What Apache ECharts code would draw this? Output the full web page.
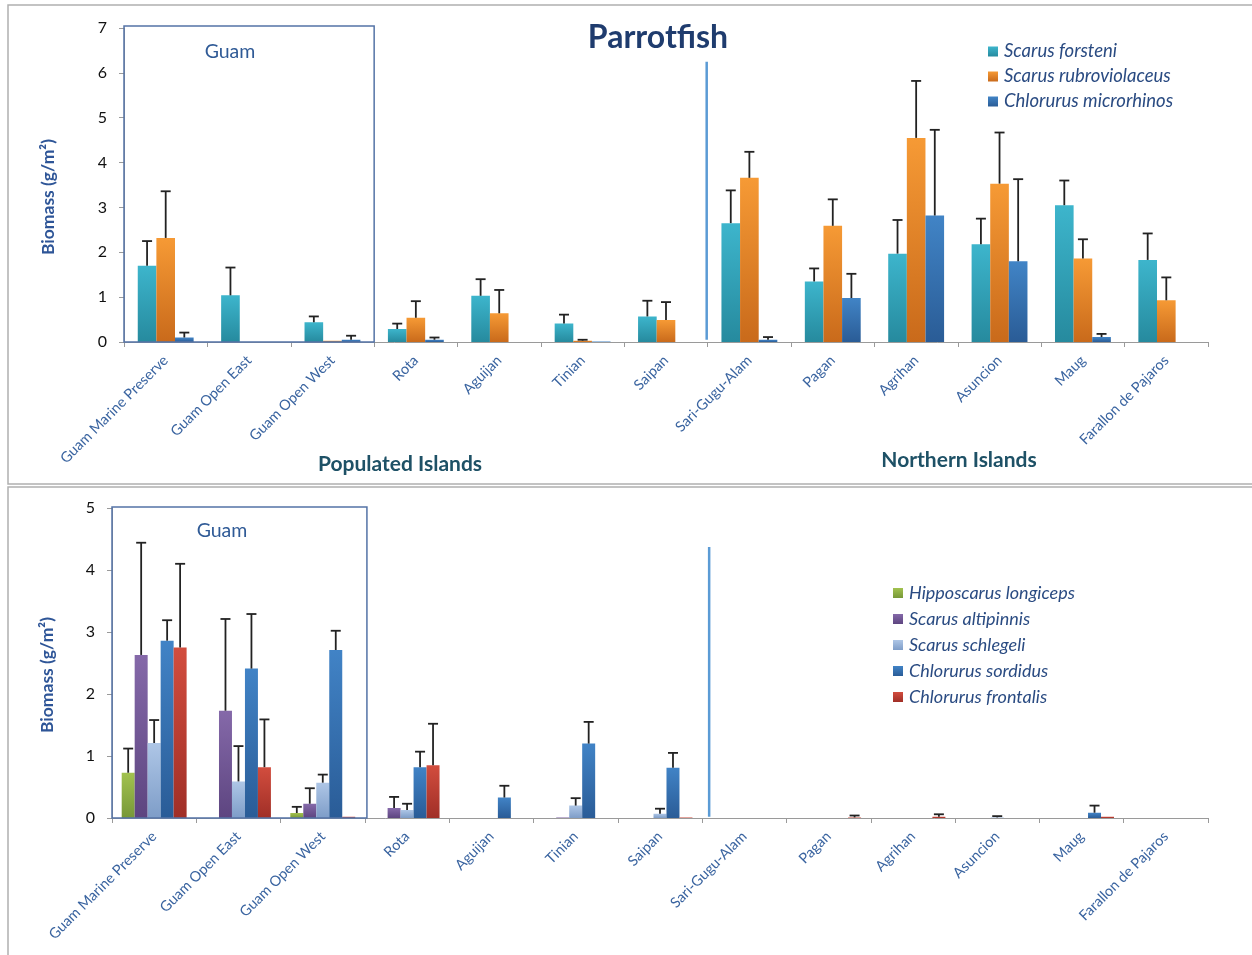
<!DOCTYPE html>
<html><head><meta charset="utf-8">
<script src="https://cdn.jsdelivr.net/npm/echarts@6/dist/echarts.min.js"></script>
<style>html,body{margin:0;padding:0;background:#fff}#c{width:1252px;height:955px}</style>
</head><body><div id="c"></div>
<script>
var categories = ['Guam Marine Preserve','Guam Open East','Guam Open West','Rota','Aguijan','Tinian','Saipan','Sari-Gugu-Alam','Pagan','Agrihan','Asuncion','Maug','Farallon de Pajaros'];
var yTicksTop = [0,1,2,3,4,5,6,7];
var yTicksBottom = [0,1,2,3,4,5];

// Top panel
var forsteni     = [1.70,1.04,0.44,0.29,1.03,0.41,0.57,2.65,1.35,1.97,2.18,3.05,1.83];
var forsteniErr  = [2.25,1.66,0.57,0.41,1.40,0.61,0.92,3.38,1.64,2.72,2.75,3.60,2.42];
var rubro        = [2.32,0,0.03,0.54,0.64,0.03,0.49,3.66,2.59,4.55,3.53,1.86,0.93];
var rubroErr     = [3.36,null,null,0.91,1.16,0.05,0.89,4.24,3.18,5.82,4.67,2.29,1.44];
var micro        = [0.10,0,0.05,0.05,0,0.01,0,0.05,0.98,2.82,1.80,0.11,0];
var microErr     = [0.21,null,0.14,0.10,null,null,null,0.11,1.52,4.73,3.63,0.18,null];

// Bottom panel
var longiceps     = [0.73,0,0.08,0,0,0,0,0,0,0,0,0,0];
var longicepsErr  = [1.12,null,0.18,null,null,null,null,null,null,null,null,null,null];
var altipinnis    = [2.63,1.73,0.23,0.16,0,0.01,0,0,0,0,0,0,0];
var altipinnisErr = [4.44,3.21,0.48,0.34,null,null,null,null,null,null,null,null,null];
var schlegeli     = [1.21,0.59,0.57,0.13,0,0.20,0.07,0,0,0,0.01,0,0];
var schlegeliErr  = [1.58,1.16,0.70,0.23,null,0.32,0.15,null,null,null,0.03,null,null];
var sordidus      = [2.86,2.41,2.71,0.82,0.33,1.20,0.81,0,0,0,0,0.085,0];
var sordidusErr   = [3.19,3.29,3.02,1.07,0.52,1.55,1.05,null,null,null,null,0.20,null];
var frontalis     = [2.75,0.82,0.02,0.85,0,0,0.01,0,0.01,0.02,0,0.02,0];
var frontalisErr  = [4.10,1.59,null,1.52,null,null,null,null,0.04,0.06,null,null,null];

var topSeries = [
  {name:'Scarus forsteni', data:forsteni, err:forsteniErr, c:['#3DB5CC','#268A9E']},
  {name:'Scarus rubroviolaceus', data:rubro, err:rubroErr, c:['#F69A35','#C96A1B']},
  {name:'Chlorurus microrhinos', data:micro, err:microErr, c:['#4184C6','#2A5C96']}
];
var bottomSeries = [
  {name:'Hipposcarus longiceps', data:longiceps, err:longicepsErr, c:['#A2C24F','#779838']},
  {name:'Scarus altipinnis', data:altipinnis, err:altipinnisErr, c:['#8569A9','#5D4580']},
  {name:'Scarus schlegeli', data:schlegeli, err:schlegeliErr, c:['#AEC6E6','#7E9DC8']},
  {name:'Chlorurus sordidus', data:sordidus, err:sordidusErr, c:['#4183C6','#2A5C97']},
  {name:'Chlorurus frontalis', data:frontalis, err:frontalisErr, c:['#D24D3E','#A02F27']}
];

var FONT = 'Lato, "Open Sans", sans-serif';
var GAP_TOP = 0.33, GAP_BOT = 0.23;

function grad(c){
  return new echarts.graphic.LinearGradient(0,0,0,1,[{offset:0,color:c[0]},{offset:1,color:c[1]}]);
}
function errRender(n,k,gap){
  return function(params, api){
    var ci = api.value(0), v = api.value(1), e = api.value(2);
    var p0 = api.coord([ci, v]), p1 = api.coord([ci, e]);
    var band = api.size([1,0])[0];
    var group = band*(1-gap), bw = group/n;
    var x = p0[0] - group/2 + (k+0.5)*bw;
    var st = {stroke:'#222', lineWidth:1.8};
    return {type:'group', children:[
      {type:'line', shape:{x1:x,y1:p0[1],x2:x,y2:p1[1]}, style:st},
      {type:'line', shape:{x1:x-5,y1:p1[1],x2:x+5,y2:p1[1]}, style:st}
    ]};
  };
}

var series = [];
function addGroup(list, axisIdx, gap){
  list.forEach(function(s,k){
    series.push({
      type:'bar', name:s.name, xAxisIndex:axisIdx, yAxisIndex:axisIdx,
      data:s.data, barGap:'0%', barCategoryGap:(gap*100)+'%',
      itemStyle:{color:grad(s.c)}, animation:false
    });
    var ed = [];
    s.err.forEach(function(e,i){ if(e!==null) ed.push([i, s.data[i], e]); });
    series.push({
      type:'custom', name:s.name+' err', xAxisIndex:axisIdx, yAxisIndex:axisIdx,
      renderItem:errRender(list.length,k,gap), data:ed, z:5, silent:true, animation:false,
      encode:{x:0,y:[1,2]}
    });
  });
}
addGroup(topSeries,0,GAP_TOP);
addGroup(bottomSeries,1,GAP_BOT);

function xAx(gi){
  return {type:'category', gridIndex:gi, data:categories,
    axisLine:{lineStyle:{color:'#9a9a9a',width:1}},
    axisTick:{show:true,length:5,lineStyle:{color:'#9a9a9a'}},
    axisLabel:{interval:0, rotate:45, fontSize:14.5, color:'#3A64A0', fontFamily:FONT, margin:16},
    splitLine:{show:false}};
}
function yAx(gi,max,margin,ticks){
  return {type:'value', gridIndex:gi, min:ticks[0], max:max, interval:1,
    axisLine:{show:true, lineStyle:{color:'#9a9a9a'}},
    axisTick:{show:true, length:5, lineStyle:{color:'#9a9a9a'}},
    axisLabel:{fontSize:16, color:'#111', fontFamily:FONT, margin:margin},
    splitLine:{show:false}};
}

var option = {
  backgroundColor:'#fff',
  animation:false,
  textStyle:{fontFamily:FONT},
  grid:[
    {left:124, right:44, top:28, height:314},
    {left:112, right:44, top:508, height:310}
  ],
  xAxis:[xAx(0), xAx(1)],
  yAxis:[yAx(0,7,17,yTicksTop), yAx(1,5,17,yTicksBottom)],
  legend:[
    {data:topSeries.map(function(s){return s.name;}), orient:'vertical', left:983, top:37,
      itemWidth:10, itemHeight:10, itemGap:6, icon:'rect', selectedMode:false,
      textStyle:{fontStyle:'italic', fontSize:18.5, color:'#2A4B82', fontFamily:FONT, padding:[0,0,0,1]}},
    {data:bottomSeries.map(function(s){return s.name;}), orient:'vertical', left:888, top:579,
      itemWidth:10, itemHeight:10, itemGap:8, icon:'rect', selectedMode:false,
      textStyle:{fontStyle:'italic', fontSize:18, color:'#2A4B82', fontFamily:FONT, padding:[0,0,0,1]}}
  ],
  series:series
};

var chart = echarts.init(document.getElementById('c'), null, {renderer:'canvas'});
chart.setOption(option);

function boundary(gi, idx, val){
  var a = chart.convertToPixel({xAxisIndex:gi, yAxisIndex:gi},[0,val]);
  var b = chart.convertToPixel({xAxisIndex:gi, yAxisIndex:gi},[1,val]);
  var band = b[0]-a[0];
  return [a[0] - band/2 + idx*band, a[1]];
}
var tl0 = boundary(0,0,7), br0 = boundary(0,3,0);
var tl1 = boundary(1,0,5), br1 = boundary(1,3,0);
var s0a = boundary(0,7,6.25), s0b = boundary(0,7,0.05);
var s1a = boundary(1,7,4.37), s1b = boundary(1,7,0.02);

chart.setOption({graphic:[
  {type:'rect', shape:{x:8,y:5,width:1270,height:479}, style:{fill:'none', stroke:'#b0b0b0', lineWidth:1.5}, silent:true},
  {type:'rect', shape:{x:8,y:487,width:1270,height:480}, style:{fill:'none', stroke:'#b0b0b0', lineWidth:1.5}, silent:true},
  {type:'rect', shape:{x:tl0[0],y:tl0[1]-2,width:br0[0]-tl0[0],height:br0[1]-tl0[1]+2}, style:{fill:'none', stroke:'#5473A6', lineWidth:1.5}, z:10, silent:true},
  {type:'rect', shape:{x:tl1[0],y:tl1[1]-1,width:br1[0]-tl1[0]+2,height:br1[1]-tl1[1]+1}, style:{fill:'none', stroke:'#5473A6', lineWidth:1.5}, z:10, silent:true},
  {type:'line', shape:{x1:s0a[0]-1,y1:s0a[1],x2:s0b[0]-1,y2:s0b[1]}, style:{stroke:'#5B9BD5', lineWidth:2.5}, z:10, silent:true},
  {type:'line', shape:{x1:s1a[0]+7,y1:s1a[1],x2:s1b[0]+7,y2:s1b[1]}, style:{stroke:'#5B9BD5', lineWidth:2.5}, z:10, silent:true},
  {type:'text', x:658, y:38, style:{text:'Parrotfish', font:'bold 32px '+FONT, fill:'#1F3C6E', align:'center', verticalAlign:'middle'}, z:10},
  {type:'text', x:230, y:52, style:{text:'Guam', font:'19.5px '+FONT, fill:'#2F5A96', align:'center', verticalAlign:'middle'}, z:10},
  {type:'text', x:222, y:531, style:{text:'Guam', font:'19.5px '+FONT, fill:'#2F5A96', align:'center', verticalAlign:'middle'}, z:10},
  {type:'text', x:400, y:464, style:{text:'Populated Islands', font:'bold 21px '+FONT, fill:'#1E5166', align:'center', verticalAlign:'middle'}, z:10},
  {type:'text', x:959, y:460, style:{text:'Northern Islands', font:'bold 21px '+FONT, fill:'#1E5166', align:'center', verticalAlign:'middle'}, z:10},
  {type:'text', x:48, y:197, rotation:Math.PI/2, style:{text:'Biomass (g/m²)', font:'bold 17.5px '+FONT, fill:'#2E5597', align:'center', verticalAlign:'middle'}, z:10},
  {type:'text', x:47, y:675, rotation:Math.PI/2, style:{text:'Biomass (g/m²)', font:'bold 17.5px '+FONT, fill:'#2E5597', align:'center', verticalAlign:'middle'}, z:10}
]});
</script></body></html>
